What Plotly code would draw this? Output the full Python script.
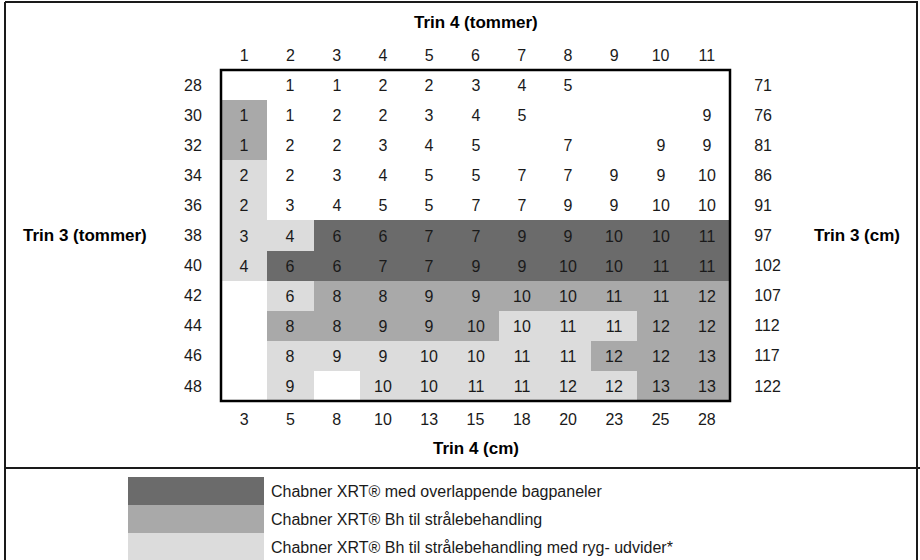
import plotly.graph_objects as go

# ---------------- data ----------------
trin4_in = [1, 2, 3, 4, 5, 6, 7, 8, 9, 10, 11]
trin4_cm = [3, 5, 8, 10, 13, 15, 18, 20, 23, 25, 28]
trin3_in = [28, 30, 32, 34, 36, 38, 40, 42, 44, 46, 48]
trin3_cm = [71, 76, 81, 86, 91, 97, 102, 107, 112, 117, 122]

# size number in each cell (None = empty)
sizes = [
    [None, 1, 1, 2, 2, 3, 4, 5, None, None, None],
    [1, 1, 2, 2, 3, 4, 5, None, None, None, 9],
    [1, 2, 2, 3, 4, 5, None, 7, None, 9, 9],
    [2, 2, 3, 4, 5, 5, 7, 7, 9, 9, 10],
    [2, 3, 4, 5, 5, 7, 7, 9, 9, 10, 10],
    [3, 4, 6, 6, 7, 7, 9, 9, 10, 10, 11],
    [4, 6, 6, 7, 7, 9, 9, 10, 10, 11, 11],
    [None, 6, 8, 8, 9, 9, 10, 10, 11, 11, 12],
    [None, 8, 8, 9, 9, 10, 10, 11, 11, 12, 12],
    [None, 8, 9, 9, 10, 10, 11, 11, 12, 12, 13],
    [None, 9, None, 10, 10, 11, 11, 12, 12, 13, 13],
]

# product shading: 0 none, 1 ryg-udvider, 2 Bh, 3 overlappende bagpaneler
shade = [
    [0, 0, 0, 0, 0, 0, 0, 0, 0, 0, 0],
    [2, 0, 0, 0, 0, 0, 0, 0, 0, 0, 0],
    [2, 0, 0, 0, 0, 0, 0, 0, 0, 0, 0],
    [1, 0, 0, 0, 0, 0, 0, 0, 0, 0, 0],
    [1, 0, 0, 0, 0, 0, 0, 0, 0, 0, 0],
    [1, 1, 3, 3, 3, 3, 3, 3, 3, 3, 3],
    [1, 3, 3, 3, 3, 3, 3, 3, 3, 3, 3],
    [0, 1, 2, 2, 2, 2, 2, 2, 2, 2, 2],
    [0, 2, 2, 2, 2, 2, 1, 1, 1, 2, 2],
    [0, 1, 1, 1, 1, 1, 1, 1, 2, 2, 2],
    [0, 1, 0, 1, 1, 1, 1, 1, 1, 2, 2],
]

legend_codes = [3, 2, 1]
legend_labels = [
    "Chabner XRT® med overlappende bagpaneler",
    "Chabner XRT® Bh til strålebehandling",
    "Chabner XRT® Bh til strålebehandling med ryg- udvider*",
]
shade_colors = ["#ffffff", "#dcdcdc", "#a9a9a9", "#6b6b6b"]

# ---------------- layout geometry (pixels) ----------------
W, H = 920, 560
L, R, T, B = 221, 730, 70, 401
FONT = "Liberation Sans, Arial, sans-serif"
FS = 16


def px(x):
    return (x - L) / (R - L)


def py(y):
    return (B - y) / (B - T)


col_idx = list(range(len(trin4_in)))
row_idx = list(range(len(trin3_in)))

text = [["" if v is None else str(v) for v in row] for row in sizes]

n = len(shade_colors) - 1
cscale = []
for i, c in enumerate(shade_colors):
    lo = max(0, (i - 0.5) / n)
    hi = min(1, (i + 0.5) / n)
    cscale.append([lo, c])
    cscale.append([hi, c])

fig = go.Figure()
fig.add_trace(go.Heatmap(
    x=col_idx, y=row_idx, z=shade, text=text,
    texttemplate="%{text}",
    textfont=dict(family=FONT, size=FS, color="#1a1a1a"),
    colorscale=cscale, zmin=0, zmax=n, showscale=False,
    hoverinfo="skip", xgap=0, ygap=0,
))
# invisible trace to carry the cm axes
fig.add_trace(go.Scatter(
    x=col_idx, y=row_idx, xaxis="x2", yaxis="y2",
    mode="markers", marker=dict(opacity=0), hoverinfo="skip", showlegend=False,
))

tickfont = dict(family=FONT, size=FS, color="#1a1a1a")
hidden_tick = "rgba(0,0,0,0)"

fig.update_layout(
    width=W, height=H,
    margin=dict(l=L, r=W - R, t=T, b=H - B),
    paper_bgcolor="white", plot_bgcolor="white",
    showlegend=False,
    xaxis=dict(
        side="top", range=[-0.5, len(col_idx) - 0.5],
        tickvals=col_idx, ticktext=[str(v) for v in trin4_in],
        tickfont=tickfont, ticks="outside", ticklen=2, tickcolor=hidden_tick,
        showgrid=False, zeroline=False, showline=False, fixedrange=True,
    ),
    xaxis2=dict(
        overlaying="x", side="bottom", range=[-0.5, len(col_idx) - 0.5],
        tickvals=col_idx, ticktext=[str(v) for v in trin4_cm],
        tickfont=tickfont, ticks="outside", ticklen=4, tickcolor=hidden_tick,
        showgrid=False, zeroline=False, showline=False, fixedrange=True,
    ),
    yaxis=dict(
        side="left", range=[len(row_idx) - 0.5, -0.5],
        tickvals=row_idx, ticktext=[str(v) for v in trin3_in],
        tickfont=tickfont, ticks="outside", ticklen=15, tickcolor=hidden_tick,
        showgrid=False, zeroline=False, showline=False, fixedrange=True,
    ),
    yaxis2=dict(
        overlaying="y", side="right", range=[len(row_idx) - 0.5, -0.5],
        tickvals=row_idx, ticktext=[str(v) for v in trin3_cm],
        tickfont=tickfont, ticks="outside", ticklen=20, tickcolor=hidden_tick,
        showgrid=False, zeroline=False, showline=False, fixedrange=True,
    ),
)

shapes = []
# table box
shapes.append(dict(type="rect", xref="x domain", yref="y domain",
                   x0=0, x1=1, y0=0, y1=1,
                   line=dict(color="#000000", width=2.5), fillcolor="rgba(0,0,0,0)"))
# outer frame and separator
frame = dict(color="#1a1a1a", width=2)
shapes.append(dict(type="line", xref="paper", yref="paper",
                   x0=px(5), x1=px(5), y0=py(2), y1=py(565), line=frame))
shapes.append(dict(type="line", xref="paper", yref="paper",
                   x0=px(5), x1=px(918), y0=py(2), y1=py(2), line=frame))
shapes.append(dict(type="line", xref="paper", yref="paper",
                   x0=px(917), x1=px(917), y0=py(2), y1=py(565), line=frame))
shapes.append(dict(type="line", xref="paper", yref="paper",
                   x0=px(5), x1=px(920), y0=py(468), y1=py(468), line=frame))

annotations = []
title_font = dict(family=FONT, size=17, color="#000000")


def title(txt, x, y):
    return dict(text="<b>" + txt + "</b>", xref="paper", yref="paper",
                x=x, y=y, xanchor="center", yanchor="middle",
                showarrow=False, font=title_font)


annotations.append(title("Trin 4 (tommer)", 0.5, py(22)))
annotations.append(title("Trin 4 (cm)", 0.5, py(448)))
annotations.append(title("Trin 3 (tommer)", px(85), 0.5))
annotations.append(title("Trin 3 (cm)", px(857), 0.5))

# legend swatches + labels
top0, rowh = 477, 28
for i, (code, lab) in enumerate(zip(legend_codes, legend_labels)):
    y0 = top0 + i * rowh
    shapes.append(dict(type="rect", xref="paper", yref="paper",
                       x0=px(128), x1=px(264), y0=py(y0), y1=py(y0 + rowh),
                       line=dict(width=0), fillcolor=shade_colors[code]))
    annotations.append(dict(text=lab, xref="paper", yref="paper",
                            x=px(269), y=py(y0 + rowh / 2), xanchor="left",
                            yanchor="middle", showarrow=False,
                            font=dict(family=FONT, size=FS, color="#1a1a1a")))

fig.update_layout(shapes=shapes, annotations=annotations)
fig.write_html("out.html", config={"displayModeBar": False},
               post_script="document.body.style.margin='0';")
